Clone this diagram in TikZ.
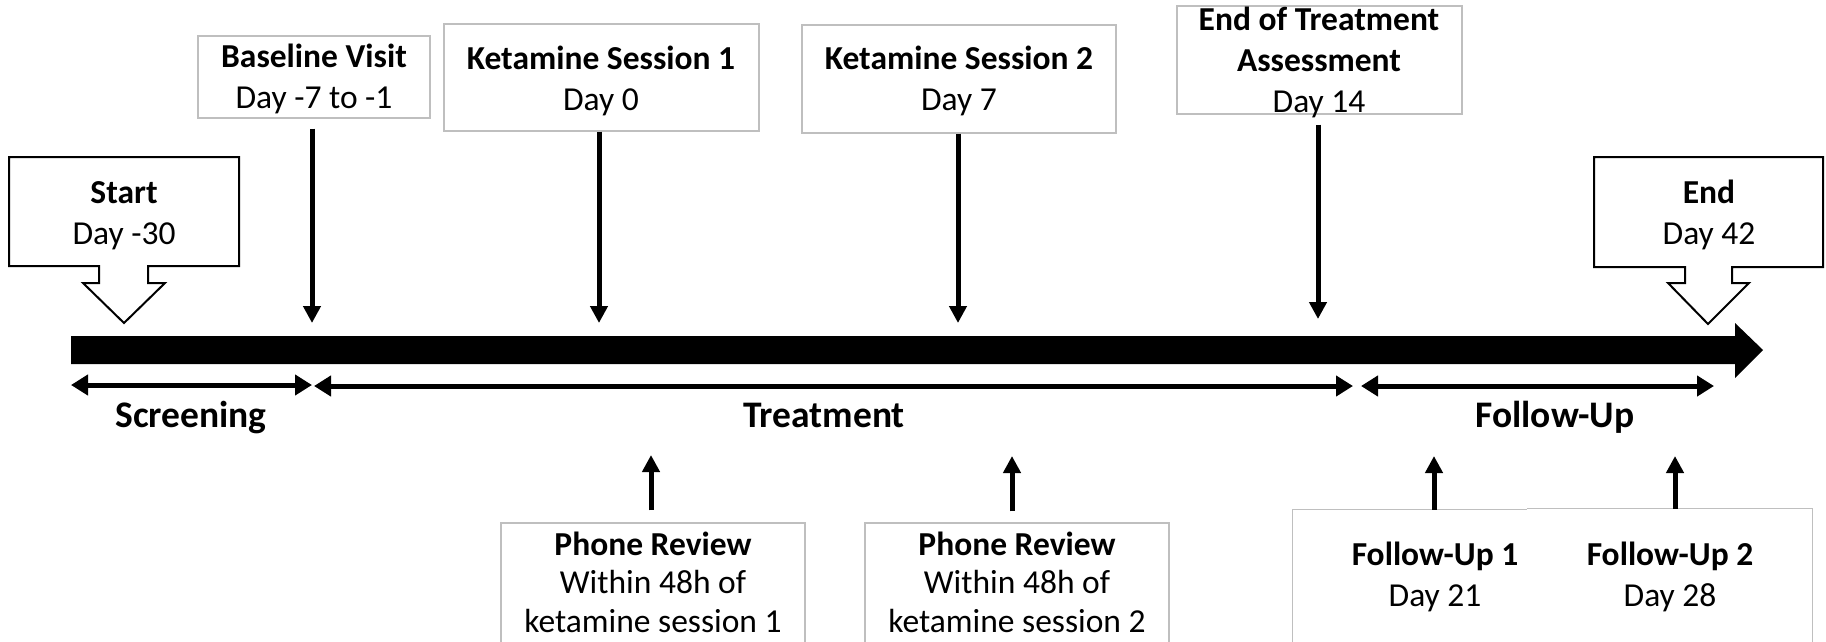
\documentclass[tikz,border=0pt]{standalone}
\usepackage{fontspec}
\setmainfont{Carlito}
\usetikzlibrary{arrows.meta}

\definecolor{boxgray}{RGB}{191,191,191}

\tikzset{
  box/.style={draw=boxgray, line width=1.2pt, fill=white, inner sep=0pt, rectangle},
  nobox/.style={inner sep=0pt, rectangle},
  % multi-line labels: the base anchor sits on the last line
  lbl/.style={font=\fontsize{33.5}{41}\selectfont, align=center, anchor=base, inner sep=0pt},
  tightlbl/.style={lbl, font=\fontsize{33.5}{38.5}\selectfont},
  phase/.style={font=\bfseries\fontsize{37.5}{45}\selectfont, anchor=base, inner sep=0pt},
  evarrow/.style={line width=5pt, -{Triangle[length=17pt,width=17pt]}},
  span/.style={line width=5pt, {Triangle[length=17pt,width=20pt]}-{Triangle[length=17pt,width=20pt]}},
  callout/.style={draw=black, line width=2pt, fill=white, line join=miter},
  fuedge/.style={draw=boxgray, line width=1.2pt},
}

\begin{document}
\begin{tikzpicture}[x=1pt, y=-1pt]
  % page frame
  \useasboundingbox (0,0) rectangle (1826,641);
  \clip (0,0) rectangle (1826,641);
  \fill[white] (0,0) rectangle (1826,641);

  % main time line
  \fill[black] (71,336) -- (1735,336) -- (1735,323) -- (1763,350)
               -- (1735,378) -- (1735,364) -- (71,364) -- cycle;

  % start / end callouts
  \draw[callout] (9,157) -- (239,157) -- (239,266) -- (148,266) -- (148,283)
                 -- (165,283) -- (124,323) -- (83,283) -- (99,283) -- (99,266)
                 -- (9,266) -- cycle;
  \node[lbl] (start) at (124,244) {\textbf{Start}\\Day -30};

  \draw[callout] (1594,157) -- (1823,157) -- (1823,267) -- (1732,267) -- (1732,283)
                 -- (1749,283) -- (1708,324) -- (1668,283) -- (1685,283) -- (1685,267)
                 -- (1594,267) -- cycle;
  \node[lbl] (end) at (1709,244) {\textbf{End}\\Day 42};

  % visit boxes above the line
  \node[box, minimum width=232pt, minimum height=82pt]  (bBase) at (314,77) {};
  \node[box, minimum width=315pt, minimum height=107pt] (bKet1) at (601.5,77.5) {};
  \node[box, minimum width=314pt, minimum height=108pt] (bKet2) at (959,79) {};
  \node[box, minimum width=285pt, minimum height=108pt] (bEoT)  at (1319.5,60) {};

  \node[lbl] (tBase) at (314,108)  {\textbf{Baseline Visit}\\Day -7 to -1};
  \node[lbl] (tKet1) at (601,110)  {\textbf{Ketamine Session 1}\\Day 0};
  \node[lbl] (tKet2) at (959,110)  {\textbf{Ketamine Session 2}\\Day 7};
  \node[lbl] (tEoT)  at (1319,112) {\textbf{End of Treatment}\\\textbf{Assessment}\\Day 14};

  % visit boxes below the line
  \node[box, minimum width=304pt, minimum height=177pt] (bPh1) at (653,611.5) {};
  \node[box, minimum width=304pt, minimum height=177pt] (bPh2) at (1017,611.5) {};
  \node[nobox, minimum width=234pt, minimum height=190pt] (bFU1) at (1410,605) {};
  \node[nobox, minimum width=285pt, minimum height=191pt] (bFU2) at (1669.5,604.5) {};
  \draw[fuedge] (bFU1.south west) -- (bFU1.north west) -- (bFU1.north east);
  \draw[fuedge] (bFU2.north west) -- (bFU2.north east) -- (bFU2.south east);

  \node[tightlbl] (tPh1) at (653,632)  {\textbf{Phone Review}\\Within 48h of\\ketamine session 1};
  \node[tightlbl] (tPh2) at (1017,632) {\textbf{Phone Review}\\Within 48h of\\ketamine session 2};
  \node[lbl] (tFU1) at (1435,606) {\textbf{Follow-Up 1}\\Day 21};
  \node[lbl] (tFU2) at (1670,606) {\textbf{Follow-Up 2}\\Day 28};

  % points on the line that the visits refer to
  \coordinate (pBase) at (312,323);
  \coordinate (pKet1) at (599,323);
  \coordinate (pKet2) at (958,323);
  \coordinate (pEoT)  at (1318,319);
  \coordinate (pPh1)  at (651,455);
  \coordinate (pPh2)  at (1012,456);
  \coordinate (pFU1)  at (1434,456);
  \coordinate (pFU2)  at (1675,456);

  \draw[evarrow] ([yshift=-10pt]pBase |- bBase.south) -- (pBase);
  \draw[evarrow] (pKet1 |- bKet1.south) -- (pKet1);
  \draw[evarrow] (pKet2 |- bKet2.south) -- (pKet2);
  \draw[evarrow] ([yshift=-10pt]pEoT |- bEoT.south) -- (pEoT);
  \draw[evarrow] ([yshift=12pt]pPh1 |- bPh1.north) -- (pPh1);
  \draw[evarrow] ([yshift=11pt]pPh2 |- bPh2.north) -- (pPh2);
  \draw[evarrow] (pFU1 |- bFU1.north) -- (pFU1);
  \draw[evarrow] (pFU2 |- bFU2.north) -- (pFU2);

  % study phases
  \coordinate (s0) at (71,385);
  \coordinate (s1) at (312,385);
  \coordinate (t0) at (314,386);
  \coordinate (t1) at (1353,386);
  \coordinate (f0) at (1361,386);
  \coordinate (f1) at (1714,386);
  \draw[span] (s0) -- (s1);
  \draw[span] (t0) -- (t1);
  \draw[span] (f0) -- (f1);

  \node[phase] (screening) at (191,427)  {Screening};
  \node[phase] (treatment) at (824,427)  {Treatment};
  \node[phase] (followup)  at (1555,427) {Follow-Up};
\end{tikzpicture}
\end{document}
